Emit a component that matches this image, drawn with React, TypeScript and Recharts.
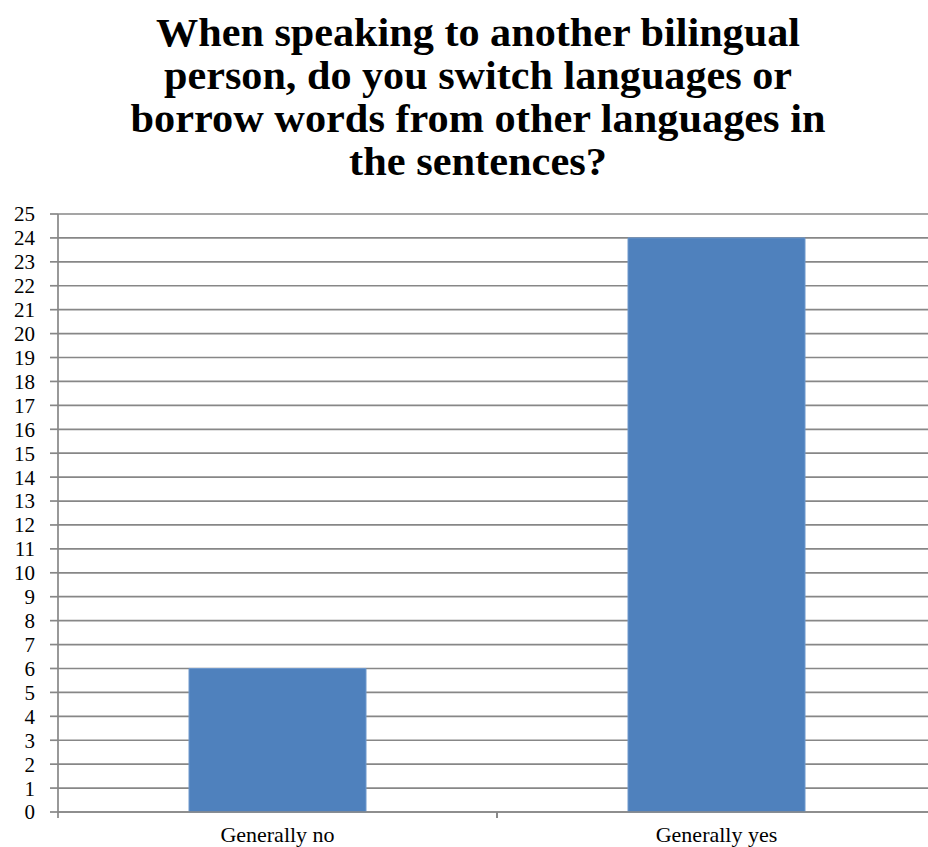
import React from "react";
import { BarChart, Bar, XAxis, YAxis, CartesianGrid } from "recharts";

const categories = ["Generally no", "Generally yes"];
const counts = [6, 24];
const yTicks = [0, 1, 2, 3, 4, 5, 6, 7, 8, 9, 10, 11, 12, 13, 14, 15, 16, 17, 18, 19, 20, 21, 22, 23, 24, 25];
const titleLines = [
  "When speaking to another bilingual",
  "person, do you switch languages or",
  "borrow words from other languages in",
  "the sentences?",
];

const CHART_W = 936;
const CHART_H = 847;
const Y_AXIS_W = 58;
const PLOT_TOP = 214;
const X_AXIS_H = 35;
const TITLE_X = 478;
const TITLE_BASES = [46, 89, 132, 175];
const TITLE_WIDTHS = [644, 628, 695, 258];

const GRID = "#878787";
const FONT = "Liberation Serif, Tinos, Times New Roman, DejaVu Serif, serif";

const data = categories.map((name, i) => ({ name, value: counts[i] }));
const band = (CHART_W - Y_AXIS_W) / categories.length;

function CategoryTick(props: any) {
  const { x, y, payload } = props;
  return (
    <g>
      <line x1={x - band / 2} x2={x - band / 2} y1={y} y2={y + 6} stroke={GRID} strokeWidth={1.7} />
      <line x1={x + band / 2} x2={x + band / 2} y1={y} y2={y + 6} stroke={GRID} strokeWidth={1.7} />
      <text x={x} y={y + 30} textAnchor="middle" fontSize={22} style={{ fontFamily: FONT }} fill="#000">
        {payload.value}
      </text>
    </g>
  );
}

export default function App() {
  return (
    <div style={{ position: "absolute", left: 0, top: 0, width: 928, height: 847, overflow: "hidden", background: "#fff", fontFamily: FONT }}>
      <BarChart
        width={CHART_W}
        height={CHART_H}
        data={data}
        margin={{ top: PLOT_TOP, right: 0, bottom: 0, left: 0 }}
        style={{ fontFamily: FONT }}
      >
        <CartesianGrid vertical={false} stroke={GRID} strokeWidth={1.7} />
        <XAxis
          dataKey="name"
          height={X_AXIS_H}
          axisLine={{ stroke: GRID, strokeWidth: 1.7 }}
          tickLine={false}
          tickSize={0}
          tickMargin={0}
          tick={<CategoryTick />}
          interval={0}
        />
        <YAxis
          width={Y_AXIS_W}
          domain={[0, 25]}
          ticks={yTicks}
          interval={0}
          allowDecimals={false}
          axisLine={{ stroke: GRID, strokeWidth: 1.7 }}
          tickLine={{ stroke: GRID, strokeWidth: 1.7 }}
          tickSize={8}
          tickMargin={15}
          tick={{ fill: "#000", fontSize: 21, style: { fontFamily: FONT } }}
        />
        <Bar dataKey="value" fill="#4F81BD" stroke="#6f98cc" strokeWidth={1} barSize={177} isAnimationActive={false} />
      </BarChart>
      <svg width={928} height={200} style={{ position: "absolute", left: 0, top: 0 }}>
        {titleLines.map((line, i) => (
          <text
            key={i}
            x={TITLE_X}
            y={TITLE_BASES[i]}
            textAnchor="middle"
            fontSize={41}
            fontWeight="bold"
            style={{ fontFamily: FONT }}
            textLength={TITLE_WIDTHS[i]}
            lengthAdjust="spacingAndGlyphs"
            fill="#000"
          >
            {line}
          </text>
        ))}
      </svg>
    </div>
  );
}
